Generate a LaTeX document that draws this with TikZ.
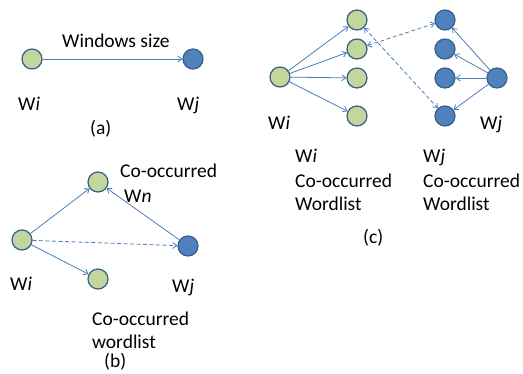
\documentclass[tikz,border=0pt]{standalone}
\usepackage{fontspec}
\setmainfont{Carlito}
\usetikzlibrary{arrows.meta}
\definecolor{gfill}{HTML}{C3D69B}
\definecolor{bfill}{HTML}{4F81BD}
\definecolor{edge}{HTML}{385D8A}
\definecolor{lnk}{HTML}{4A7EBB}
\begin{document}
\begin{tikzpicture}[x=1pt,y=-1pt,
  gnode/.style={circle,draw=edge,fill=gfill,line width=1.2pt,minimum size=20pt,inner sep=0pt},
  bnode/.style={circle,draw=edge,fill=bfill,line width=1.2pt,minimum size=20pt,inner sep=0pt},
  lab/.style={inner sep=0pt,anchor=base west,font=\fontsize{19.5}{23}\selectfont},
  arr/.style={draw=lnk,line width=0.8pt,-{Straight Barb[length=4pt,width=6pt]}},
  darr/.style={arr,dashed,dash pattern=on 4pt off 2.5pt},
  ddarr/.style={darr,{Straight Barb[length=4pt,width=6pt]}-{Straight Barb[length=4pt,width=6pt]}}]
\useasboundingbox (0,0) rectangle (523,374);
% (a)
\node[gnode] (ai) at (32,59) {};
\node[bnode] (aj) at (193,59) {};
\draw[arr] (ai) -- (aj);
\node[lab] (aws) at (62,48) {Windows size};
\node[lab] (ail) at (18,111) {W\textit{i}};
\node[lab] (ajl) at (177,111) {W\textit{j}};
\node[lab] (acap) at (90,135) {(a)};
% (b)
\node[gnode] (bi) at (22,240) {};
\node[gnode] (bt) at (98,182) {};
\node[gnode] (bb) at (98,279) {};
\node[bnode] (bj) at (188,246) {};
\draw[arr] (bi) -- (bt);
\draw[arr] (bi) -- (bb);
\draw[darr] (bi) -- (bj);
\draw[arr] (bj) -- (bt);
\node[lab] (bco) at (120,178) {Co-occurred};
\node[lab] (bwn) at (124,203) {W\textit{n}};
\node[lab] (bil) at (10,291) {W\textit{i}};
\node[lab] (bjl) at (172,293) {W\textit{j}};
\node[lab] (bco2) at (92,326) {Co-occurred};
\node[lab] (bwl) at (92,349) {wordlist};
\node[lab] (bcap) at (104,368) {(b)};
% (c)
\node[gnode] (ci) at (280,77) {};
\node[gnode] (g1) at (357,20) {};
\node[gnode] (g2) at (357,49) {};
\node[gnode] (g3) at (357,78) {};
\node[gnode] (g4) at (357,116) {};
\node[bnode] (cj) at (497,78) {};
\node[bnode] (b1) at (445,20) {};
\node[bnode] (b2) at (445,49) {};
\node[bnode] (b3) at (445,78) {};
\node[bnode] (b4) at (445,116) {};
\foreach \n in {g1,g2,g3,g4} \draw[arr] (ci) -- (\n);
\foreach \n in {b1,b2,b3,b4} \draw[arr] (cj) -- (\n);
\draw[ddarr] (g2) -- (b1);
\draw[ddarr] (g1) -- (b4);
\node[lab] (cil) at (268,130) {W\textit{i}};
\node[lab] (cjl) at (480,130) {W\textit{j}};
\node[lab] (cwi) at (295,163) {W\textit{i}};
\node[lab] (cco1) at (295,188) {Co-occurred};
\node[lab] (cwl1) at (295,211) {Wordlist};
\node[lab] (cwj) at (423,163) {W\textit{j}};
\node[lab] (cco2) at (423,188) {Co-occurred};
\node[lab] (cwl2) at (423,211) {Wordlist};
\node[lab] (ccap) at (363,244) {(c)};
\end{tikzpicture}
\end{document}
